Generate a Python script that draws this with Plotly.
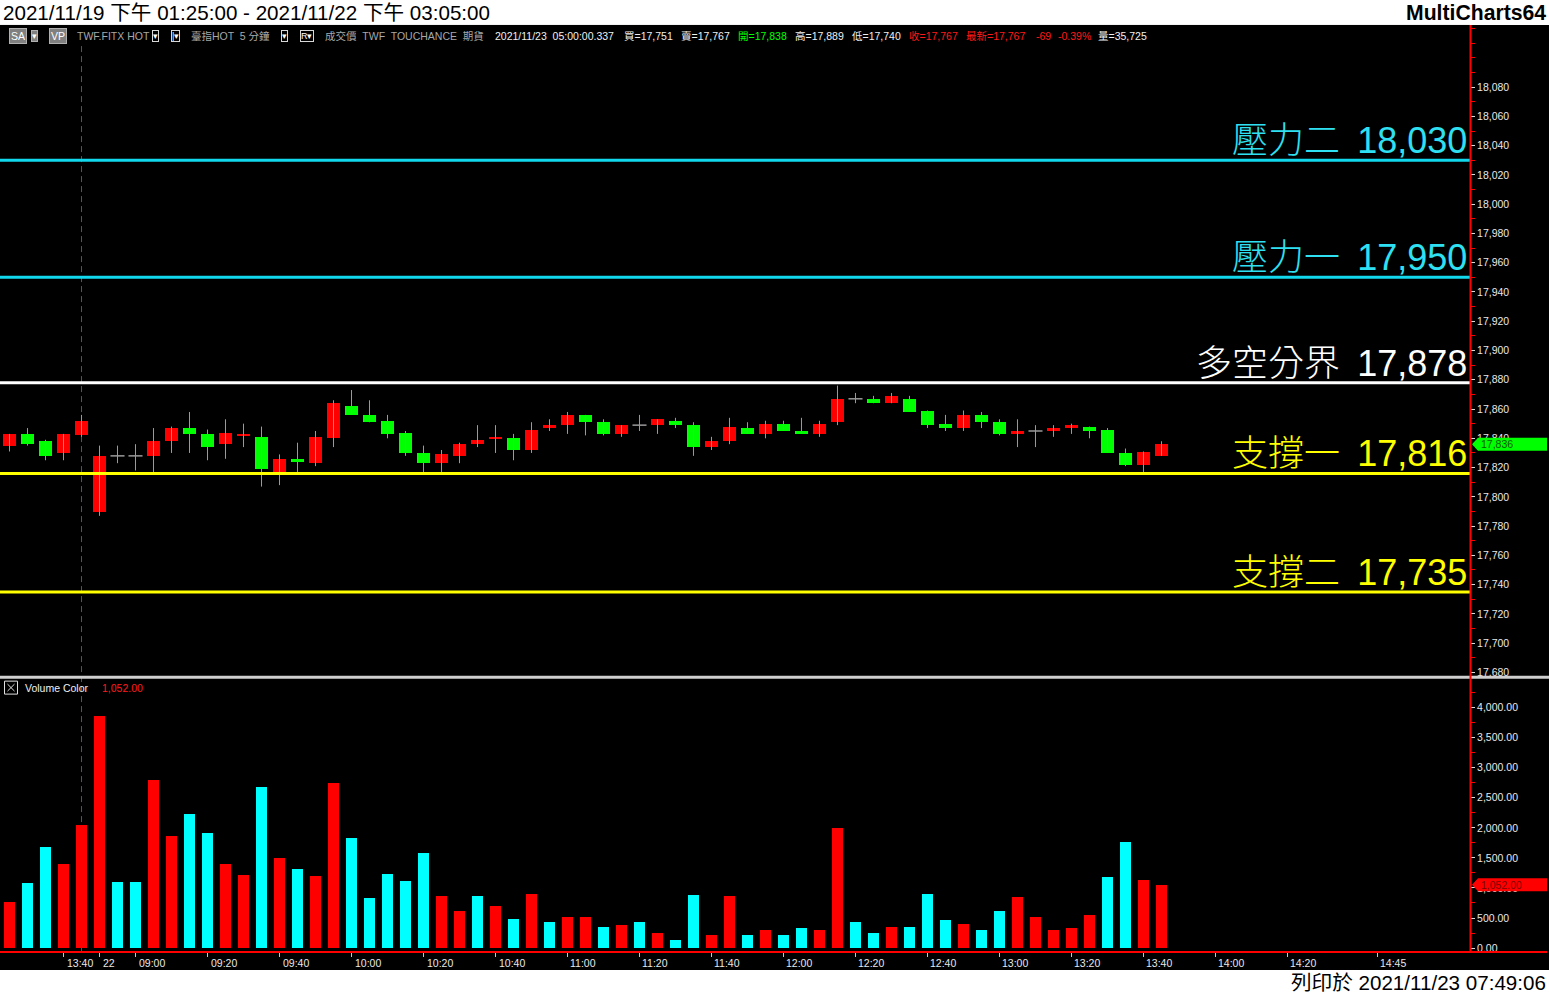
import plotly.graph_objects as go

W, H = 1549, 995

# 5-minute bars of 臺指 (TWF.FITX HOT), last 65 bars
opens = [17835, 17843, 17838, 17830, 17842, 17790, 17828, 17828, 17828, 17838,
         17847, 17843, 17836, 17842, 17841, 17817, 17826, 17823, 17840, 17862,
         17856, 17852, 17844, 17830, 17823, 17828, 17836, 17840, 17840, 17832,
         17847, 17849, 17856, 17851, 17843, 17849, 17849, 17852, 17849, 17834,
         17838, 17847, 17843, 17850, 17845, 17843, 17851, 17867, 17867, 17864,
         17867, 17859, 17850, 17847, 17856, 17851, 17843, 17845, 17845, 17847,
         17848, 17846, 17830, 17822, 17828]
highs = [17843, 17847, 17839, 17843, 17856, 17835, 17835, 17836, 17847, 17848,
         17858, 17846, 17853, 17850, 17848, 17829, 17837, 17845, 17866, 17873,
         17866, 17856, 17845, 17835, 17832, 17837, 17849, 17849, 17843, 17851,
         17853, 17858, 17856, 17853, 17849, 17856, 17853, 17854, 17851, 17841,
         17854, 17851, 17852, 17852, 17854, 17852, 17876, 17871, 17869, 17871,
         17869, 17859, 17856, 17859, 17858, 17853, 17853, 17849, 17849, 17850,
         17848, 17847, 17833, 17831, 17838]
lows = [17831, 17835, 17825, 17825, 17841, 17787, 17823, 17818, 17817, 17830,
        17830, 17825, 17826, 17834, 17807, 17808, 17817, 17821, 17834, 17856,
        17851, 17840, 17828, 17817, 17817, 17823, 17834, 17830, 17825, 17830,
        17845, 17843, 17842, 17842, 17841, 17845, 17843, 17847, 17828, 17832,
        17836, 17843, 17840, 17845, 17843, 17841, 17849, 17864, 17864, 17864,
        17858, 17847, 17845, 17845, 17847, 17842, 17834, 17834, 17841, 17843,
        17840, 17830, 17821, 17817, 17828]
closes = [17843, 17836, 17828, 17843, 17852, 17828, 17828, 17828, 17838, 17847,
          17843, 17834, 17844, 17843, 17819, 17826, 17824, 17841, 17864, 17856,
          17851, 17843, 17830, 17823, 17829, 17836, 17839, 17841, 17832, 17846,
          17849, 17856, 17851, 17843, 17849, 17849, 17853, 17849, 17834, 17838,
          17848, 17843, 17850, 17845, 17843, 17850, 17867, 17867, 17864, 17869,
          17858, 17849, 17847, 17856, 17851, 17843, 17845, 17845, 17847, 17849,
          17845, 17830, 17822, 17831, 17836]

# Volume Color study: volume per bar and its colour flag (r = red, c = cyan)
volumes = [780, 1095, 1693, 1411, 2058, 3867, 1112, 1112, 2805, 1876,
           2241, 1925, 1411, 1228, 2689, 1510, 1328, 1212, 2755, 1842,
           846, 1245, 1129, 1593, 880, 631, 880, 714, 498, 913,
           432, 515, 515, 365, 382, 432, 249, 133, 896, 216,
           880, 232, 315, 216, 332, 299, 2008, 432, 249, 365,
           349, 913, 465, 415, 299, 631, 863, 515, 315, 332,
           564, 1195, 1776, 1145, 1052]
volume_flags = ["r", "c", "c", "r", "r", "r", "c", "c", "r", "r",
                "c", "c", "r", "r", "c", "r", "c", "r", "r", "c",
                "c", "c", "c", "c", "r", "r", "c", "r", "c", "r",
                "c", "r", "r", "c", "r", "c", "r", "c", "c", "r",
                "r", "c", "r", "c", "c", "r", "r", "c", "c", "r",
                "c", "c", "c", "r", "c", "c", "r", "r", "r", "r",
                "r", "c", "c", "r", "r"]

# time axis labels (bar index -> label)
tick_bars = [3, 5, 7, 11, 15, 19, 23, 27, 31, 35, 39, 43, 47, 51, 55, 59, 63, 67, 71, 76]
tick_texts = ["13:40", "22", "09:00", "09:20", "09:40", "10:00", "10:20", "10:40",
              "11:00", "11:20", "11:40", "12:00", "12:20", "12:40", "13:00",
              "13:20", "13:40", "14:00", "14:20", "14:45"]

# support / resistance levels
level_names = ["壓力二", "壓力一", "多空分界", "支撐一", "支撐二"]
level_values = [18030, 17950, 17878, 17816, 17735]
level_kinds = ["res", "res", "mid", "sup", "sup"]

# quote bar
quote_items = [
    ("2021/11/23  05:00:00.337", "white", 493),
    ("買=17,751", "white", 622),
    ("賣=17,767", "white", 679),
    ("開=17,838", "green", 736),
    ("高=17,889", "white", 793),
    ("低=17,740", "white", 850),
    ("收=17,767", "red", 907),
    ("最新=17,767", "red", 964),
    ("-69", "red", 1034),
    ("-0.39%", "red", 1056),
    ("量=35,725", "white", 1096),
]

RED = "#ff0000"
GREEN = "#00ff00"
CYAN = "#00ffff"
LEVEL_COLORS = {"res": "#12d8ee", "mid": "#ffffff", "sup": "#ffff00"}
LEVEL_TEXT = {"res": "#2fe0f2", "mid": "#ffffff", "sup": "#ffff00"}
TEXT_COLORS = {"white": "#f0f0f0", "green": "#00ff00", "red": "#ff1a1a", "gray": "#a8a8a8"}
WICK = "#9a9a9a"
FONT = "Liberation Sans, Noto Sans CJK TC, sans-serif"


def px(x):
    return x / W


def py(y):
    return 1 - y / H


PLOT_RIGHT = 1470
X_RANGE = [-0.528, 81.14]

fig = go.Figure()

# wicks
wx, wy = [], []
for i, (hi, lo) in enumerate(zip(highs, lows)):
    wx += [i, i, None]
    wy += [lo, hi, None]
fig.add_trace(go.Scatter(x=wx, y=wy, mode="lines", line=dict(color=WICK, width=1),
                         xaxis="x", yaxis="y", hoverinfo="skip"))

# doji cross bars
dx, dy = [], []
for i, (o, c) in enumerate(zip(opens, closes)):
    if o == c:
        dx += [i - 0.39, i + 0.39, None]
        dy += [c, c, None]
fig.add_trace(go.Scatter(x=dx, y=dy, mode="lines", line=dict(color=WICK, width=1.5),
                         xaxis="x", yaxis="y", hoverinfo="skip"))

# candle bodies
up = [i for i, (o, c) in enumerate(zip(opens, closes)) if c > o]
dn = [i for i, (o, c) in enumerate(zip(opens, closes)) if c < o]
fig.add_trace(go.Bar(x=up, y=[closes[i] - opens[i] for i in up], base=[opens[i] for i in up],
                     width=0.72, marker=dict(color=RED, line=dict(width=0)),
                     xaxis="x", yaxis="y"))
fig.add_trace(go.Bar(x=dn, y=[opens[i] - closes[i] for i in dn], base=[closes[i] for i in dn],
                     width=0.72, marker=dict(color=GREEN, line=dict(width=0)),
                     xaxis="x", yaxis="y"))

# volume
fig.add_trace(go.Bar(x=list(range(len(volumes))), y=volumes, width=0.61,
                     marker=dict(color=[RED if f == "r" else CYAN for f in volume_flags],
                                 line=dict(width=0)),
                     xaxis="x2", yaxis="y2"))

shapes = []
annotations = []

# black chart canvas
shapes.append(dict(type="rect", xref="paper", yref="paper", x0=0, x1=1, y0=py(972), y1=py(25),
                   fillcolor="black", line=dict(width=0), layer="below"))

# level lines and labels
for name, val, kind in zip(level_names, level_values, level_kinds):
    shapes.append(dict(type="line", xref="paper", yref="y", x0=0, x1=px(PLOT_RIGHT), y0=val, y1=val,
                       line=dict(color=LEVEL_COLORS[kind], width=3)))
    annotations.append(dict(xref="paper", yref="y", x=px(PLOT_RIGHT), y=val, xanchor="right",
                            yanchor="bottom", xshift=-1, yshift=-3, showarrow=False,
                            text=f"{name} \u2009{val:,}",
                            font=dict(family=FONT, size=36, weight=300, color=LEVEL_TEXT[kind])))

# session separator (last bar before the "22" day label)
sep_bar = tick_bars[tick_texts.index("22")] - 1
shapes.append(dict(type="line", xref="x", yref="paper", x0=sep_bar, x1=sep_bar,
                   y0=py(954), y1=py(44), line=dict(color="#555555", width=1, dash="6px,4px"),
                   layer="below"))

# pane separator
shapes.append(dict(type="line", xref="paper", yref="paper", x0=0, x1=1, y0=py(678.5), y1=py(678.5),
                   line=dict(color="#cfcfcf", width=3)))
# red price-scale line and time-axis line
shapes.append(dict(type="line", xref="paper", yref="paper", x0=px(PLOT_RIGHT + 0.5), x1=px(PLOT_RIGHT + 0.5),
                   y0=py(955), y1=py(25), line=dict(color=RED, width=2)))
shapes.append(dict(type="line", xref="paper", yref="paper", x0=0, x1=px(1547), y0=py(954), y1=py(954),
                   line=dict(color=RED, width=2)))

# last-value markers on the scales
last_close = closes[-1]
shapes.append(dict(type="path", xref="paper", yref="y", xsizemode="pixel", ysizemode="pixel",
                   xanchor=px(PLOT_RIGHT), yanchor=last_close,
                   path="M 2,0 L 8,6.5 L 77,6.5 L 77,-6.5 L 8,-6.5 Z",
                   fillcolor=GREEN, line=dict(width=0), layer="above"))
annotations.append(dict(xref="paper", yref="y", x=px(1479), y=last_close, xanchor="left", yanchor="middle",
                        showarrow=False, text=f"{last_close:,}",
                        font=dict(family=FONT, size=10.5, color="#0a5a0a")))
last_vol = volumes[-1]
shapes.append(dict(type="path", xref="paper", yref="y2", xsizemode="pixel", ysizemode="pixel",
                   xanchor=px(PLOT_RIGHT), yanchor=last_vol,
                   path="M 2,0 L 8,6.5 L 77,6.5 L 77,-6.5 L 8,-6.5 Z",
                   fillcolor=RED, line=dict(width=0), layer="above"))
annotations.append(dict(xref="paper", yref="y2", x=px(1479), y=last_vol, xanchor="left", yanchor="middle",
                        showarrow=False, text=f"{last_vol:,.2f}",
                        font=dict(family=FONT, size=10.5, color="#7a0000")))

# time labels beside their ticks
for b, t in zip(tick_bars, tick_texts):
    annotations.append(dict(xref="x2", yref="paper", x=b, y=py(964.5), xanchor="left", yanchor="middle",
                            xshift=1, showarrow=False, text=t,
                            font=dict(family=FONT, size=10.5, color="#e8e8e8")))

# window title and footer
annotations.append(dict(xref="paper", yref="paper", x=px(1), y=py(12.5), xanchor="left", yanchor="middle",
                        showarrow=False, text="2021/11/19 下午 01:25:00 - 2021/11/22 下午 03:05:00",
                        font=dict(family=FONT, size=20.6, color="black")))
annotations.append(dict(xref="paper", yref="paper", x=px(1548), y=py(12.5), xanchor="right", yanchor="middle",
                        showarrow=False, text="<b>MultiCharts64</b>",
                        font=dict(family=FONT, size=21.2, color="black")))
annotations.append(dict(xref="paper", yref="paper", x=px(1548), y=py(984), xanchor="right", yanchor="middle",
                        showarrow=False, text="列印於 2021/11/23 07:49:06",
                        font=dict(family=FONT, size=20.6, color="black")))

# symbol / quote bar
hdr_y = py(36)
small = dict(family=FONT, size=10.5, color="#ffffff")
annotations.append(dict(xref="paper", yref="paper", x=px(9), y=hdr_y, xanchor="left", yanchor="middle",
                        showarrow=False, text="SA", bgcolor="#808080", bordercolor="#b0b0b0",
                        borderwidth=1, borderpad=1, font=small))
annotations.append(dict(xref="paper", yref="paper", x=px(31), y=hdr_y, xanchor="left", yanchor="middle",
                        showarrow=False, text="▾", bgcolor="#808080", bordercolor="#b0b0b0",
                        borderwidth=1, borderpad=0, font=dict(family=FONT, size=9, color="white")))
annotations.append(dict(xref="paper", yref="paper", x=px(49), y=hdr_y, xanchor="left", yanchor="middle",
                        showarrow=False, text="VP", bgcolor="#808080", bordercolor="#b0b0b0",
                        borderwidth=1, borderpad=1, font=small))
for x0, txt in [(152, "▾"), (171, "|▾"), (281, "▾"), (300, "R▾")]:
    annotations.append(dict(xref="paper", yref="paper", x=px(x0), y=hdr_y, xanchor="left", yanchor="middle",
                            showarrow=False, text=txt, bgcolor="black", bordercolor="#d8d8d8",
                            borderwidth=1, borderpad=0, font=dict(family=FONT, size=9, color="white")))
for x0, txt in [(75, "TWF.FITX HOT"), (189, "臺指HOT  5 分鐘"), (323, "成交價  TWF  TOUCHANCE  期貨")]:
    annotations.append(dict(xref="paper", yref="paper", x=px(x0), y=hdr_y, xanchor="left", yanchor="middle",
                            showarrow=False, text=txt,
                            font=dict(family=FONT, size=10.5, color=TEXT_COLORS["gray"])))
for txt, col, x0 in quote_items:
    annotations.append(dict(xref="paper", yref="paper", x=px(x0), y=hdr_y, xanchor="left", yanchor="middle",
                            showarrow=False, text=txt,
                            font=dict(family=FONT, size=10.5, color=TEXT_COLORS[col])))

# volume pane title
shapes.append(dict(type="rect", xref="paper", yref="paper", x0=px(4.5), x1=px(17.5), y0=py(695.5), y1=py(682.5),
                   line=dict(color="#e0e0e0", width=1)))
shapes.append(dict(type="line", xref="paper", yref="paper", x0=px(7.5), x1=px(14.5), y0=py(685.5), y1=py(692.5),
                   line=dict(color="#e0e0e0", width=1)))
shapes.append(dict(type="line", xref="paper", yref="paper", x0=px(7.5), x1=px(14.5), y0=py(692.5), y1=py(685.5),
                   line=dict(color="#e0e0e0", width=1)))
annotations.append(dict(xref="paper", yref="paper", x=px(23), y=py(689), xanchor="left", yanchor="middle",
                        showarrow=False, text="Volume Color",
                        font=dict(family=FONT, size=10.5, color="#f0f0f0")))
annotations.append(dict(xref="paper", yref="paper", x=px(100), y=py(689), xanchor="left", yanchor="middle",
                        showarrow=False, text=f"{last_vol:,.2f}",
                        font=dict(family=FONT, size=10.5, color="#ff1a1a")))

axis_font = dict(family=FONT, size=10.5, color="#e8e8e8")
fig.update_layout(
    width=W, height=H, margin=dict(l=0, r=0, t=0, b=0),
    paper_bgcolor="white", plot_bgcolor="black",
    showlegend=False, barmode="overlay", bargap=0,
    xaxis=dict(domain=[0, px(PLOT_RIGHT)], range=X_RANGE, anchor="y", visible=False, matches="x2"),
    xaxis2=dict(domain=[0, px(PLOT_RIGHT)], range=X_RANGE, anchor="y2", showgrid=False, zeroline=False,
                showline=False, tickmode="array", tickvals=tick_bars, ticks="outside", ticklen=4,
                tickcolor="#c8c8c8", showticklabels=False),
    yaxis=dict(domain=[py(677), py(25)], range=[17677.8, 18122.5], anchor="x", side="right",
               showgrid=False, zeroline=False, showline=False,
               tickmode="array", tickvals=list(range(17680, 18081, 20)), tickformat=",d",
               ticks="outside", ticklen=4, tickcolor="#dcdcdc", tickfont=axis_font,
               minor=dict(tickmode="linear", tick0=17680, dtick=10, ticks="outside", ticklen=4,
                          tickcolor=RED, showgrid=False)),
    yaxis2=dict(domain=[py(954), py(680)], range=[-66.4, 4481], anchor="x2", side="right",
                showgrid=False, zeroline=False, showline=False,
                tickmode="array", tickvals=list(range(0, 4001, 500)), tickformat=",.2f",
                ticks="outside", ticklen=4, tickcolor="#dcdcdc", tickfont=axis_font,
                minor=dict(tickmode="linear", tick0=0, dtick=250, ticks="outside", ticklen=4,
                           tickcolor=RED, showgrid=False)),
    shapes=shapes,
    annotations=annotations,
)

fig.write_html("out.html")
